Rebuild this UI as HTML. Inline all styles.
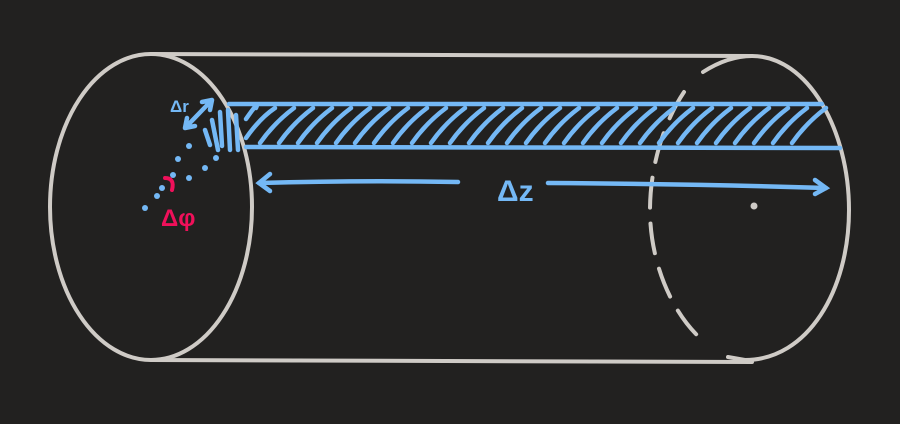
<!DOCTYPE html>
<html><head><meta charset="utf-8"><style>
html,body{margin:0;padding:0;background:#222120;}
svg{display:block}
text{font-family:"Liberation Sans",sans-serif;}
</style></head><body>
<svg id="s" width="900" height="424" viewBox="0 0 900 424">
<rect width="900" height="424" fill="#222120"/>
<g fill="none" stroke="#cfcbc6" stroke-width="4" stroke-linecap="round">
  <ellipse cx="151" cy="207" rx="101" ry="153"/>
  <path d="M151 54 L752 56"/>
  <path d="M151 360 L752 362"/>
  <path d="M703 72 Q728 56 752 56 C808 56 849 130 849 210 C849 290 808 360 745 360 L728 357"/>
  <path d="M684 92 C662 125 650 170 650 210 C650 260 670 310 700 338" stroke-dasharray="30 16"/>
</g>
<circle cx="754" cy="206" r="3.5" fill="#cfcbc6"/>
<g id="strip" stroke="#74b8f5" stroke-width="4.5" stroke-linecap="round" fill="none">
  <path d="M229 104 L822 104"/>
  <path d="M246 147 L840 148"/>
</g>
<g stroke="#74b8f5" stroke-width="4.5" stroke-linecap="round" fill="none">
  <path d="M458 182 Q360 180 259 183"/>
  <path d="M270 174 L259 183 L270 191"/>
  <path d="M548 183 Q700 184 826 188"/>
  <path d="M815 180 L826 188 L815 194"/>
  <path d="M185 128 L212 100 M185 128 L187 118 M185 128 L195 126 M212 100 L202 102 M212 100 L210 110"/>
  <path d="M205 130 L210 145 M212 120 L218 150 M220 112 L222 146 M228 110 L230 150 M236 115 L238 150"/>
</g>
<g fill="#74b8f5">
  <circle cx="145" cy="208" r="3"/><circle cx="157" cy="196" r="3"/><circle cx="162" cy="188" r="3"/>
  <circle cx="178" cy="159" r="3"/><circle cx="189" cy="146" r="3"/>
  <circle cx="173" cy="175" r="3"/><circle cx="189" cy="178" r="3"/><circle cx="205" cy="168" r="3"/><circle cx="216" cy="158" r="3"/>
</g>
<text x="170" y="112" fill="#74b8f5" font-size="17" font-weight="bold">Δr</text>
<text x="497" y="201" fill="#74b8f5" font-size="30" font-weight="bold">Δz</text>
<text x="161" y="226" fill="#f0105a" font-size="24" font-weight="bold">Δφ</text>
<path d="M165 178 Q175 178 172 190" stroke="#f0105a" stroke-width="4" fill="none" stroke-linecap="round"/>
</svg>
<script>
var g=document.getElementById('strip');
for(var x=256;x<=836;x+=19){
  var p=document.createElementNS('http://www.w3.org/2000/svg','path');
  var x0=x-34, x1=x, y0=143, y1=108;
  if(x0<246){ y0=143-(246-x0); x0=246; }
  if(x1>834){ y1=108+(x1-834); x1=834; }
  p.setAttribute('d','M'+x0+' '+y0+' Q'+(x0+14)+' '+(y0-20)+' '+x1+' '+y1);
  
  
  g.appendChild(p);
}
</script>
</body></html>
